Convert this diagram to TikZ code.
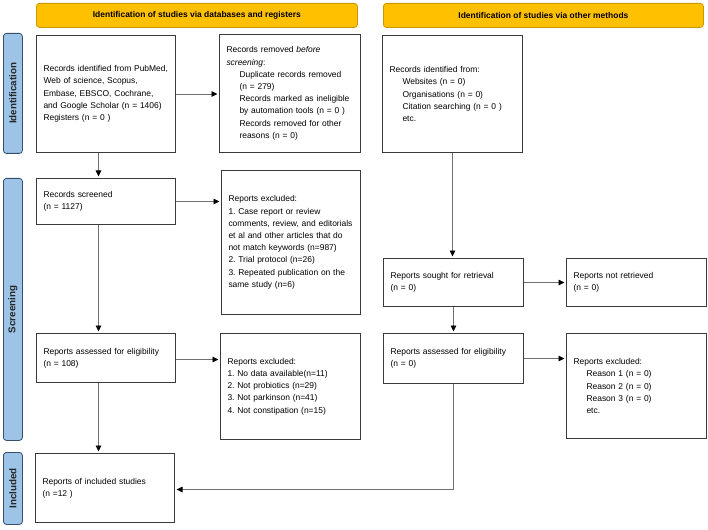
\documentclass[tikz,border=0pt]{standalone}
\usepackage{fontspec}
\setmainfont{Liberation Sans}
\usetikzlibrary{arrows.meta}
\definecolor{hdrf}{HTML}{FFC000}
\definecolor{hdrd}{HTML}{C99A00}
\definecolor{sidef}{HTML}{9DC3E6}
\definecolor{sided}{HTML}{34506E}
\definecolor{boxc}{HTML}{3A3A3A}
\definecolor{linec}{HTML}{707070}
\newcommand\ind{\hspace*{13pt}}
\frenchspacing
\begin{document}
\begin{tikzpicture}[
  bx/.style={draw=boxc, line width=1pt, anchor=north west, inner xsep=7pt, inner ysep=0pt,
    align=left, font=\fontsize{8.45}{12.2}\selectfont, text=black},
  hdr/.style={draw=hdrd, fill=hdrf, rounded corners=3pt, line width=0.8pt,
    font=\bfseries\fontsize{8.45}{10}\selectfont, anchor=north west, inner sep=0pt},
  side/.style={draw=sided, fill=sidef, rounded corners=3pt, line width=0.8pt,
    anchor=north west, inner sep=0pt, minimum width=19pt},
  sidetxt/.style={rotate=90, font=\bfseries\fontsize{9.8}{10}\selectfont, text=black!85},
  arr/.style={draw=linec, line width=0.9pt, -{Triangle[length=6pt,width=5.5pt,color=black]}, shorten >=1.5pt},
  ln/.style={draw=linec, line width=0.9pt}
]
\useasboundingbox (0,0) rectangle (708pt,-529pt);

% headers
\node[hdr, minimum width=321pt, minimum height=24pt] (h1) at (36pt,-3pt)
  {Identification of studies via databases and registers};
\node[hdr, minimum width=320pt, minimum height=24pt] (h2) at (383pt,-3pt)
  {Identification of studies via other methods};

% side bars
\node[side, minimum height=120pt] (s1) at (3pt,-33pt) {};
\node[sidetxt] (s1t) at (s1.center) {Identification};
\node[side, minimum height=262pt] (s2) at (3pt,-178pt) {};
\node[sidetxt] (s2t) at (s2.center) {Screening};
\node[side, minimum height=72pt] (s3) at (3pt,-452pt) {};
\node[sidetxt] (s3t) at (s3.center) {Included};

% left column
\node[bx, minimum width=139pt, minimum height=117pt, text width=125pt] (A) at (36pt,-35pt)
  {Records identified from PubMed,\\ Web of science, Scopus,\\ Embase, EBSCO, Cochrane,\\ and Google Scholar (n = 1406)\\ Registers (n = 0 )};
\node[bx, minimum width=141pt, minimum height=118pt, text width=127pt] (B) at (219pt,-34pt)
  {Records removed \textit{before}\\ \textit{screening}:\\ \ind Duplicate records removed\\ \ind (n = 279)\\ \ind Records marked as ineligible\\ \ind by automation tools (n = 0 )\\ \ind Records removed for other\\ \ind reasons (n = 0)};
\node[bx, minimum width=139pt, minimum height=46pt, text width=125pt] (C) at (36pt,-178pt)
  {Records screened\\ (n = 1127)};
\node[bx, minimum width=139pt, minimum height=144pt, text width=125pt] (D) at (221pt,-170pt)
  {Reports excluded:\\ 1. Case report or review\\ comments, review, and editorials\\ et al and other articles that do\\ not match keywords (n=987)\\ 2. Trial protocol (n=26)\\ 3. Repeated publication on the\\ same study (n=6)};
\node[bx, minimum width=139pt, minimum height=49pt, text width=125pt] (E) at (36pt,-333pt)
  {Reports assessed for eligibility\\ (n = 108)};
\node[bx, minimum width=140pt, minimum height=106pt, text width=126pt] (F) at (220pt,-333pt)
  {Reports excluded:\\ 1. No data available(n=11)\\ 2. Not probiotics (n=29)\\ 3. Not parkinson (n=41)\\ 4. Not constipation (n=15)};
\node[bx, minimum width=139pt, minimum height=69pt, text width=125pt] (G) at (35pt,-453pt)
  {Reports of included studies\\ (n =12 )};

% right column
\node[bx, minimum width=140pt, minimum height=117pt, text width=126pt] (H) at (382pt,-35pt)
  {Records identified from:\\ \ind Websites (n = 0)\\ \ind Organisations (n = 0)\\ \ind Citation searching (n = 0 )\\ \ind etc.};
\node[bx, minimum width=140pt, minimum height=48pt, text width=126pt] (I) at (383pt,-258pt)
  {Reports sought for retrieval\\ (n = 0)};
\node[bx, minimum width=140pt, minimum height=48pt, text width=126pt] (J) at (566pt,-258pt)
  {Reports not retrieved\\ (n = 0)};
\node[bx, minimum width=140pt, minimum height=50pt, text width=126pt] (K) at (383pt,-333pt)
  {Reports assessed for eligibility\\ (n = 0)};
\node[bx, minimum width=140pt, minimum height=105pt, text width=126pt] (L) at (566pt,-333pt)
  {Reports excluded:\\ \ind Reason 1 (n = 0)\\ \ind Reason 2 (n = 0)\\ \ind Reason 3 (n = 0)\\ \ind etc.};

% connectors
\draw[arr] (A.east) -- (A.east -| B.west);
\draw[arr] ([xshift=-7.5pt]A.south) -- ([xshift=-7.5pt]A.south |- C.north);
\draw[arr] (C.east) -- (C.east -| D.west);
\draw[arr] ([xshift=-7.5pt]C.south) -- ([xshift=-7.5pt]C.south |- E.north);
\draw[arr] ([yshift=-1.5pt]E.east) -- ([yshift=-1.5pt]E.east -| F.west);
\draw[arr] ([xshift=-7.5pt]E.south) -- ([xshift=-7.5pt]E.south |- G.north);

\draw[arr] (H.south) -- (H.south |- I.north);
\draw[arr] (I.east) -- (I.east -| J.west);
\draw[arr] (I.south) -- (I.south |- K.north);
\draw[arr] (K.east) -- (K.east -| L.west);
\draw[arr] (K.south) |- ([yshift=-1.5pt]G.east);
\end{tikzpicture}
\end{document}
